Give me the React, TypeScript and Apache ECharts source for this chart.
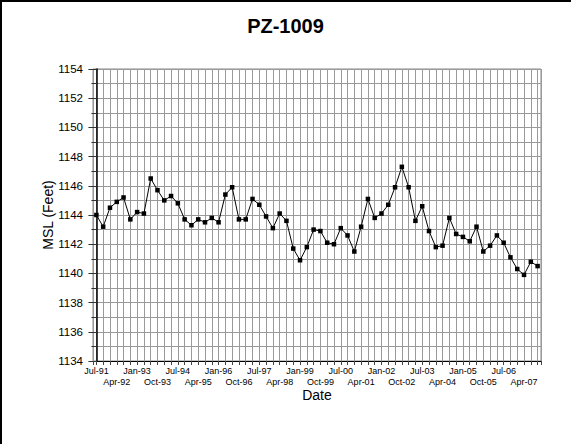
import React, { useEffect, useRef } from "react";
import * as echarts from "echarts";

const titleText = "PZ-1009";
const xAxisName = "Date";
const yAxisName = "MSL (Feet)";

const dates = [
  "Jul-91", "Oct-91", "Jan-92", "Apr-92", "Jul-92", "Oct-92", "Jan-93", "Apr-93",
  "Jul-93", "Oct-93", "Jan-94", "Apr-94", "Jul-94", "Oct-94", "Jan-95", "Apr-95",
  "Jul-95", "Oct-95", "Jan-96", "Apr-96", "Jul-96", "Oct-96", "Jan-97", "Apr-97",
  "Jul-97", "Oct-97", "Jan-98", "Apr-98", "Jul-98", "Oct-98", "Jan-99", "Apr-99",
  "Jul-99", "Oct-99", "Jan-00", "Apr-00", "Jul-00", "Oct-00", "Jan-01", "Apr-01",
  "Jul-01", "Oct-01", "Jan-02", "Apr-02", "Jul-02", "Oct-02", "Jan-03", "Apr-03",
  "Jul-03", "Oct-03", "Jan-04", "Apr-04", "Jul-04", "Oct-04", "Jan-05", "Apr-05",
  "Jul-05", "Oct-05", "Jan-06", "Apr-06", "Jul-06", "Oct-06", "Jan-07", "Apr-07",
  "Jul-07", "Oct-07",
];

const levels = [
  1144.0, 1143.2, 1144.5, 1144.9, 1145.2, 1143.7, 1144.2, 1144.1,
  1146.5, 1145.7, 1145.0, 1145.3, 1144.8, 1143.7, 1143.3, 1143.7,
  1143.5, 1143.8, 1143.5, 1145.4, 1145.9, 1143.7, 1143.7, 1145.1,
  1144.7, 1143.9, 1143.1, 1144.1, 1143.6, 1141.7, 1140.9, 1141.8,
  1143.0, 1142.9, 1142.1, 1142.0, 1143.1, 1142.6, 1141.5, 1143.2,
  1145.1, 1143.8, 1144.1, 1144.7, 1145.9, 1147.3, 1145.9, 1143.6,
  1144.6, 1142.9, 1141.8, 1141.9, 1143.8, 1142.7, 1142.5, 1142.2,
  1143.2, 1141.5, 1141.9, 1142.6, 1142.1, 1141.1, 1140.3, 1139.9,
  1140.8, 1140.5,
];

const yMin = 1134;
const yMax = 1154;
const yStep = 2;
const labelEvery = 3;

const FONT = "'Liberation Sans', Arial, sans-serif";
const GRID = "#9a9a9a";

export default function App() {
  const ref = useRef<HTMLDivElement>(null);

  useEffect(() => {
    if (!ref.current) return;
    const chart = echarts.init(ref.current, undefined, { renderer: "svg" });
    const data = levels.map((v, i) => [i, v]);
    chart.setOption({
      animation: false,
      backgroundColor: "#fff",
      textStyle: { fontFamily: FONT },
      title: {
        text: titleText,
        left: "center",
        top: 11,
        textStyle: { fontFamily: FONT, fontSize: 20, fontWeight: "bold", color: "#000" },
      },
      graphic: {
        elements: [
          {
            type: "rect",
            z: 100,
            shape: { x: 1, y: 1, width: 620, height: 480 },
            style: { fill: "none", stroke: "#000", lineWidth: 2 },
            silent: true,
          },
        ],
      },
      grid: {
        left: 93,
        right: 30,
        top: 69,
        bottom: 83,
        show: true,
        borderColor: "#888",
        borderWidth: 1,
      },
      xAxis: {
        type: "value",
        min: -0.5,
        max: dates.length - 0.5,
        minInterval: 1,
        maxInterval: 1,
        name: xAxisName,
        nameLocation: "middle",
        nameGap: 27,
        nameMoveOverlap: false,
        nameTextStyle: { fontFamily: FONT, fontSize: 14, color: "#000" },
        axisLine: { show: true, onZero: false, lineStyle: { color: "#000", width: 1 } },
        axisTick: { show: true, length: 4, lineStyle: { color: "#444" } },
        splitLine: { show: true, lineStyle: { color: GRID, width: 1 } },
        axisLabel: {
          fontFamily: FONT,
          fontSize: 9,
          color: "#000",
          margin: 4,
          lineHeight: 11.5,
          showMinLabel: true,
          showMaxLabel: true,
          formatter: (v: number) => {
            if (!Number.isInteger(v) || v < 0 || v >= dates.length) return "";
            if (v % labelEvery !== 0) return "";
            const k = v / labelEvery;
            return k % 2 === 0 ? dates[v] : "\n" + dates[v];
          },
        },
      },
      yAxis: {
        type: "value",
        min: yMin,
        max: yMax,
        interval: yStep,
        name: yAxisName,
        nameLocation: "middle",
        nameGap: 38,
        nameMoveOverlap: false,
        nameTextStyle: { fontFamily: FONT, fontSize: 14, color: "#000" },
        axisLine: { show: true, lineStyle: { color: "#000", width: 1.5 } },
        axisTick: { show: true, length: 8, lineStyle: { color: "#333" } },
        minorTick: { show: true, splitNumber: 2, length: 5, lineStyle: { color: "#333" } },
        splitLine: { show: true, lineStyle: { color: GRID, width: 1 } },
        minorSplitLine: { show: true, lineStyle: { color: GRID, width: 1 } },
        axisLabel: {
          fontFamily: FONT,
          fontSize: 11.5,
          color: "#000",
          margin: 10,
          formatter: (v: number) => String(v),
        },
      },
      series: [
        {
          type: "line",
          data,
          symbol: "rect",
          symbolSize: 4.5,
          itemStyle: { color: "#000" },
          lineStyle: { color: "#000", width: 1 },
          z: 5,
        },
      ],
    });
    return () => chart.dispose();
  }, []);

  return (
    <div
      ref={ref}
      style={{ position: "fixed", left: 0, top: 0, width: 571, height: 444 }}
    />
  );
}
